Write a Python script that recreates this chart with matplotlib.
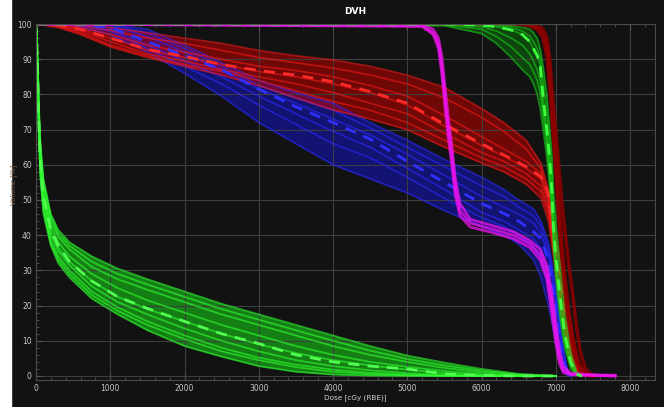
import numpy as np
import matplotlib
matplotlib.use('Agg')
import matplotlib.pyplot as plt
from matplotlib.patches import Rectangle
from matplotlib.ticker import MultipleLocator

# low dose organ (green, left)
lg_dose = [0, 10, 20, 30, 40, 60, 100, 200, 300, 450, 750, 1100, 1500, 2000, 2500, 3000, 3500, 4000, 4500, 5000, 5500, 6000, 6500, 7000]
lg_mean = [100, 95, 89, 80, 71, 61, 51, 41.5, 37, 32.5, 27, 22.5, 19.2, 15.5, 12, 9.2, 6, 4, 2.8, 2, 0.6, 0.2, 0, 0]
lg_hi = [100, 96, 91, 84, 76, 66, 56, 46, 41.5, 38, 34, 30.5, 27.5, 24, 20.5, 17.5, 14.5, 11.5, 8.5, 5.8, 3.8, 2, 0.6, 0]
lg_lo = [100, 93, 86, 76, 67, 56, 46, 37, 32, 28, 22, 17.5, 13, 8.5, 5.5, 2.8, 1.2, 0.4, 0.1, 0, 0, 0, 0, 0]
lg_curves = [
    lg_hi,
    [100, 96, 90, 83, 75, 65, 55, 45, 40.5, 37, 32.5, 29, 26, 22.5, 19, 16, 13, 10, 7.2, 4.8, 3, 1.5, 0.4, 0],
    [100, 95, 90, 82, 74, 64, 54, 44, 39.5, 36, 31, 27.5, 24.5, 21, 17.5, 14.5, 11.5, 8.5, 6, 4, 2.3, 1, 0.2, 0],
    [100, 95, 89, 81, 72, 62, 52, 42.5, 38, 34, 29, 25, 21.5, 18, 14.5, 11.5, 8.5, 6, 4, 2.6, 1.4, 0.5, 0, 0],
    [100, 95, 89, 80, 71, 61, 51, 41, 36.5, 32.5, 27, 22.5, 19, 15.5, 12, 9, 6.5, 4.5, 3, 1.8, 0.8, 0.2, 0, 0],
    [100, 94, 88, 79, 70, 60, 50, 40, 35.5, 31.5, 25.5, 21, 17.5, 13.5, 10, 7, 4.5, 2.8, 1.6, 0.8, 0.3, 0, 0, 0],
    [100, 94, 87, 78, 69, 58, 48, 38.5, 34, 30, 24, 19.5, 15.5, 11.5, 8, 5.2, 3.2, 1.8, 0.9, 0.4, 0.1, 0, 0, 0],
    [100, 93, 86, 77, 68, 57, 47, 37.5, 33, 29, 23, 18.5, 14.5, 10.5, 7, 4.5, 2.5, 1.2, 0.5, 0.2, 0, 0, 0, 0],
    lg_lo,
]

# red band
red_dose = [0, 300, 600, 1000, 1500, 2000, 2500, 3000, 3500, 4000, 4500, 5000, 5500, 6000, 6300, 6600, 6800, 6900, 6950, 7000, 7050, 7100, 7150, 7200, 7250, 7300, 7400, 7500]
red_mean = [100, 99.7, 98.5, 96, 92.8, 90.8, 88.5, 86.8, 85.5, 83.6, 80.8, 77.5, 71.5, 66, 62.8, 59.5, 56.6, 52, 44, 35, 28, 22, 16.5, 11, 6, 2.5, 0.5, 0]
red_hi = [100, 100, 99.8, 99, 97.5, 96, 94.5, 92.5, 91, 89.8, 88, 85.5, 82, 76, 72, 67, 60.5, 53, 46, 40, 34, 28, 22, 16, 9, 4, 0.8, 0]
red_lo = [100, 99, 97, 93.5, 90.5, 88, 85.5, 82.5, 79, 75.6, 73, 70, 65, 60.5, 58, 54.5, 50.5, 44, 37, 29, 21, 14, 8, 3.5, 1.2, 0.3, 0, 0]
red_curves = [
    red_hi,
    [100, 100, 99.5, 98.2, 96, 94.5, 92.5, 90.5, 89, 87.5, 85.5, 83, 79, 73.5, 69.5, 64.5, 59, 51, 43, 36, 29, 23, 17, 11, 6, 2.5, 0.4, 0],
    [100, 99.9, 99, 97, 94, 92, 90, 88, 86.8, 85, 82.5, 79.5, 74, 68, 64.5, 61, 57.5, 50, 42, 33, 25, 18.5, 12, 6.5, 3, 1, 0.1, 0],
    [100, 99.7, 98.5, 96, 92.5, 90.5, 88.5, 86.5, 85, 83, 80.5, 77, 71, 65.5, 62.5, 59, 56, 49, 41, 32, 24.5, 18, 12.5, 7, 3.2, 1, 0.2, 0],
    [100, 99.5, 98, 95, 91.5, 89.5, 87, 85, 83, 80.5, 77.5, 74.5, 69, 63.5, 61, 57.5, 54, 47.5, 40, 31, 23, 16.5, 11, 6, 2.5, 0.7, 0, 0],
    [100, 99.3, 97.5, 94, 91, 88.5, 86.5, 84, 81, 78, 75.5, 72, 67, 62, 59.5, 56, 52.5, 46, 38.5, 30, 22, 15.5, 9.5, 4.5, 1.8, 0.5, 0, 0],
    red_lo,
]

# blue band
blue_dose = [0, 500, 1000, 1500, 2000, 2500, 3000, 3500, 4000, 4500, 5000, 5500, 6000, 6300, 6500, 6700, 6800, 6900, 6950, 7000, 7050, 7100, 7150, 7200]
blue_mean = [100, 100, 99, 95, 91, 87, 81.5, 76.5, 72, 67.3, 61, 55, 49, 46.2, 44, 41, 39, 33, 27, 19, 11, 5, 1.5, 0]
blue_hi = [100, 100, 100, 98.5, 94, 89, 84, 80.5, 77.5, 72, 67, 61.5, 56.5, 53, 50, 47.5, 44, 38, 32, 25, 16, 8, 2.5, 0]
blue_lo = [100, 99.5, 97, 92, 86, 79.5, 72, 66, 60, 56, 52, 47, 42.5, 40, 37.5, 33, 28, 20, 15, 9, 4.5, 1.5, 0.3, 0]
blue_curves = [
    blue_hi,
    [100, 100, 99.8, 97.5, 93, 88, 82.5, 79, 75.5, 70.5, 65, 59.5, 54, 51, 48, 45.5, 42.5, 36, 30, 22.5, 14, 7, 2, 0],
    [100, 100, 99.5, 96.5, 92, 87, 81.5, 77.5, 73, 68.5, 63, 57, 51, 48, 46, 43.5, 40.5, 34.5, 28, 20.5, 12.5, 6, 1.8, 0],
    [100, 99.8, 98.5, 94, 89.5, 85, 79.5, 74.5, 69.5, 65, 59, 53, 46.5, 44, 41.5, 39, 36, 30, 24, 16.5, 9, 4, 1, 0],
    [100, 99.7, 98, 93, 88, 83, 77, 71.5, 66, 62, 56.5, 50.5, 45, 42.5, 40, 37, 33, 26, 20, 13, 6.5, 2.5, 0.6, 0],
    blue_lo,
]

# magenta
mag_dose = [0, 5200, 5350, 5420, 5465, 5510, 5550, 5600, 5645, 5710, 5850, 6100, 6430, 6650, 6790, 6880, 6945, 7000, 7050, 7100, 7200, 7400, 7800]
mag_curves = [
    [100, 99.5, 97.5, 94.5, 88, 78.5, 71, 63, 54, 47, 43.4, 42, 40, 37.5, 34.5, 29.5, 21, 12, 5, 1.7, 0.6, 0.3, 0],
    [100, 99.8, 98.5, 96, 91, 82, 74, 65.5, 56.5, 49, 44.5, 43, 41, 38.5, 36, 31.5, 24, 15, 7.5, 2.8, 0.8, 0.4, 0.2],
    [100, 99.3, 97, 93, 86, 76, 68, 60, 51.5, 45.5, 42.3, 41, 39, 36.5, 33, 27.5, 18, 9.5, 3.5, 1, 0.4, 0.2, 0],
]

# green target (right)
gt_dose = [0, 5500, 6000, 6200, 6400, 6550, 6650, 6700, 6750, 6790, 6830, 6880, 6920, 6950, 6970, 7000, 7060, 7120, 7200, 7280, 7350]
gt_mean = [100, 100, 99.7, 99.2, 98.3, 97, 95, 93, 91, 88.4, 79, 70, 61, 52, 42, 34, 22, 12, 4, 0.5, 0]
gt_hi = [100, 100, 100, 99.8, 99.5, 99, 98.5, 97.5, 96, 93, 88, 80, 70, 62, 53, 44, 31, 18, 7, 1, 0]
gt_lo = [100, 99.5, 97.3, 94.5, 90.5, 87, 85, 83, 80, 76, 70, 62, 53, 45, 36, 28, 16, 8, 2, 0.3, 0]
gt_curves = [
    gt_hi,
    [100, 100, 99.9, 99.6, 99, 98, 96.5, 95, 93, 90.5, 84, 75, 65.5, 57, 48, 39, 26, 15, 5.5, 0.8, 0],
    gt_mean,
    [100, 99.9, 99.2, 98, 96, 94, 91.5, 89.5, 87, 84, 76, 67.5, 58.5, 50, 40.5, 32, 20, 10.5, 3.5, 0.5, 0],
    [100, 99.8, 98.5, 96.5, 93.5, 90.5, 88.5, 86.5, 84, 80.5, 73.5, 65, 56, 48, 38.5, 30, 18, 9, 2.8, 0.4, 0],
    gt_lo,
]

# dark red
dr_dose = [0, 6500, 6650, 6750, 6830, 6880, 6920, 6960, 7000, 7040, 7080, 7130, 7180, 7230, 7280, 7330, 7400, 7500]
dr_curves = [
    [100, 100, 99.8, 99, 97.5, 94, 86, 74, 63, 50, 38, 27, 18, 11, 6, 2.5, 0.6, 0],
    [100, 100, 99.5, 98.5, 96, 91, 82, 70, 58, 45, 33, 22, 14, 8, 4, 1.5, 0.3, 0],
    [100, 100, 99.9, 99.5, 98.5, 96, 90, 79, 70, 60, 50, 40, 31, 23, 14, 7, 2, 0],
]

xticks = [0, 1000, 2000, 3000, 4000, 5000, 6000, 7000, 8000]
yticks = [0, 10, 20, 30, 40, 50, 60, 70, 80, 90, 100]

bg = '#121212'
fig = plt.figure(figsize=(6.64, 4.07), dpi=100, facecolor=bg)
fig.patches.append(Rectangle((0, 0), 11 / 664, 1, transform=fig.transFigure, color='white', zorder=-1))
ax = fig.add_axes([36 / 664, 1 - 379.5 / 407, 619 / 664, 355.5 / 407])
ax.set_facecolor(bg)


def band(dose, curves, lo, hi, col, fcol, lw=1.1, alpha=0.5, falpha=0.25):
    ax.fill_between(dose, lo, hi, color=fcol, alpha=falpha, lw=0)
    for c in curves:
        ax.plot(dose, c, color=col, lw=lw, alpha=alpha)


band(lg_dose, lg_curves, lg_lo, lg_hi, '#30ff30', '#18d818', lw=1.3, alpha=0.6, falpha=0.55)
ax.plot(lg_dose, lg_mean, color='#50ff50', lw=2, dashes=(4, 3))

band(blue_dose, blue_curves, blue_lo, blue_hi, '#2a2aff', '#1414d0', lw=1.2, alpha=0.6, falpha=0.5)
band(red_dose, red_curves, red_lo, red_hi, '#ff1a1a', '#d00000', lw=1.2, alpha=0.55, falpha=0.5)
ax.plot(blue_dose, blue_mean, color='#3030ff', lw=2, dashes=(4, 3))
ax.plot(red_dose, red_mean, color='#ff2a2a', lw=2, dashes=(4, 3))

for c in dr_curves:
    ax.plot(dr_dose, c, color='#900000', lw=2.5, alpha=0.85)

band(gt_dose, gt_curves, gt_lo, gt_hi, '#18d018', '#0a900a', lw=1.2, alpha=0.6, falpha=0.4)

for c in mag_curves:
    ax.plot(mag_dose, c, color='#f014f0', lw=2, alpha=0.75)

ax.plot(gt_dose, gt_mean, color='#40ff40', lw=2, dashes=(4, 3))

ax.set_xlim(0, 619 / 0.07425)
ax.set_ylim(-1, 100)
ax.set_xticks(xticks)
ax.set_yticks(yticks)
ax.xaxis.set_minor_locator(MultipleLocator(200))
ax.yaxis.set_minor_locator(MultipleLocator(2))
ax.grid(True, which='major', color='#3e3e3e', lw=0.8)
ax.tick_params(which='both', direction='in', colors='#555555', labelcolor='#c8c8c8',
               labelsize=5.5, top=True, pad=3)
ax.tick_params(which='major', length=4)
ax.tick_params(which='minor', length=2)
for s in ax.spines.values():
    s.set_color('#4a4a4a')

fig.text(355 / 664, 1 - 11 / 407, 'DVH', color='white', fontsize=6.5, fontweight='bold', ha='center', va='center')
fig.text(355 / 664, 1 - 398 / 407, 'Dose [cGy (RBE)]', color='#d0d0d0', fontsize=5.2, ha='center', va='center')
fig.text(14 / 664, 1 - 185 / 407, 'Volume [%]', color='#7a5a40', fontsize=5, rotation=90, ha='center', va='center')

plt.savefig('out.png', dpi=100, facecolor=fig.get_facecolor())
